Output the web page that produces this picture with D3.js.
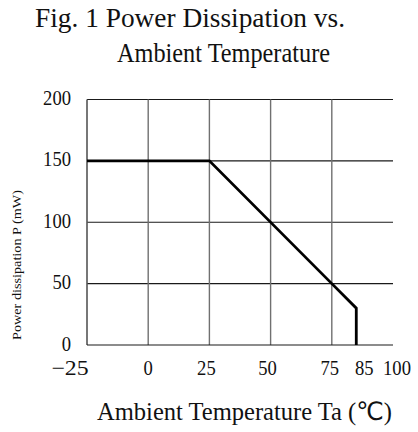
<!DOCTYPE html>
<html>
<head>
<meta charset="utf-8">
<script src="https://cdn.jsdelivr.net/npm/d3@7"></script>
<style>
  body { margin: 0; background: #fff; }
  svg { display: block; }
  text { font-family: "Liberation Serif", "DejaVu Serif", serif; fill: #111; }
</style>
</head>
<body>
<svg width="418" height="432"></svg>
<script>
// derating curve
const tempC = [-25, 25, 75, 85, 85];
const powerMW = [150, 150, 50, 30, 0];

const xTicks = [-25, 0, 25, 50, 75, 85, 100];
const xGrid = [0, 25, 50, 75];
const yTicks = [0, 50, 100, 150, 200];

const titleLines = ['Fig. 1 Power Dissipation vs.', 'Ambient Temperature'];
const xTitle = 'Ambient Temperature Ta (\u2103)';
const yTitle = 'Power dissipation P (mW)';

const x = d3.scaleLinear().domain([-25, 100]).range([87, 393]);
const y = d3.scaleLinear().domain([0, 200]).range([345, 99.5]);

const svg = d3.select('svg');

// horizontal grid
svg.selectAll('.hgrid')
  .data(yTicks.filter(d => d > 0))
  .enter().append('line')
  .attr('x1', x(-25)).attr('x2', x(100))
  .attr('y1', d => y(d)).attr('y2', d => y(d))
  .attr('stroke', '#1a1a1a').attr('stroke-width', 1.1);

// vertical grid
svg.selectAll('.vgrid')
  .data(xGrid)
  .enter().append('line')
  .attr('x1', d => x(d)).attr('x2', d => x(d))
  .attr('y1', y(200)).attr('y2', y(0))
  .attr('stroke', '#707070').attr('stroke-width', 1.4);

// axes lines
svg.append('line')
  .attr('x1', x(-25)).attr('x2', x(-25))
  .attr('y1', y(200)).attr('y2', y(0))
  .attr('stroke', '#555').attr('stroke-width', 1.6);
svg.append('line')
  .attr('x1', x(-25)).attr('x2', x(100))
  .attr('y1', y(0)).attr('y2', y(0))
  .attr('stroke', '#1a1a1a').attr('stroke-width', 1.2);

// curve
const line = d3.line().x((d, i) => x(tempC[i])).y(d => y(d));
svg.append('path')
  .datum(powerMW)
  .attr('d', line)
  .attr('fill', 'none')
  .attr('stroke', '#000')
  .attr('stroke-width', 2.8)
  .attr('stroke-linejoin', 'miter');

// y tick labels
svg.selectAll('.ylab')
  .data(yTicks)
  .enter().append('text')
  .attr('x', 71)
  .attr('y', d => y(d) + 5.5)
  .attr('text-anchor', 'end')
  .attr('font-size', 21)
  .attr('textLength', d => String(d).length * 9.3)
  .attr('lengthAdjust', 'spacingAndGlyphs')
  .text(d => d);

// x tick labels (a few are nudged to avoid crowding, as in the original)
const nudge = {'-25': -17, '25': -3, '50': -3, '75': -2, '85': 8, '100': 4};
svg.selectAll('.xlab')
  .data(xTicks)
  .enter().append('text')
  .attr('x', d => x(d) + (nudge[d] || 0))
  .attr('y', 375)
  .attr('text-anchor', 'middle')
  .attr('font-size', 21)
  .attr('textLength', d => String(d).replace('-', '--').length * 9.3)
  .attr('lengthAdjust', 'spacingAndGlyphs')
  .text(d => d < 0 ? '\u2212' + Math.abs(d) : d);

// title
svg.append('text')
  .attr('x', 35).attr('y', 27)
  .attr('font-size', 27)
  .attr('textLength', 310)
  .attr('lengthAdjust', 'spacingAndGlyphs')
  .text(titleLines[0]);
svg.append('text')
  .attr('x', 117).attr('y', 62)
  .attr('font-size', 27)
  .attr('textLength', 213)
  .attr('lengthAdjust', 'spacingAndGlyphs')
  .text(titleLines[1]);

// x axis title
svg.append('text')
  .attr('x', 97).attr('y', 420)
  .attr('font-size', 25)
  .style('font-family', '"Liberation Serif", "DejaVu Sans", sans-serif')
  .attr('textLength', 295)
  .attr('lengthAdjust', 'spacingAndGlyphs')
  .text(xTitle);

// y axis title
svg.append('text')
  .attr('transform', 'translate(21,265) rotate(-90)')
  .attr('text-anchor', 'middle')
  .attr('font-size', 13)
  .attr('textLength', 150)
  .attr('lengthAdjust', 'spacingAndGlyphs')
  .text(yTitle);
</script>
</body>
</html>
